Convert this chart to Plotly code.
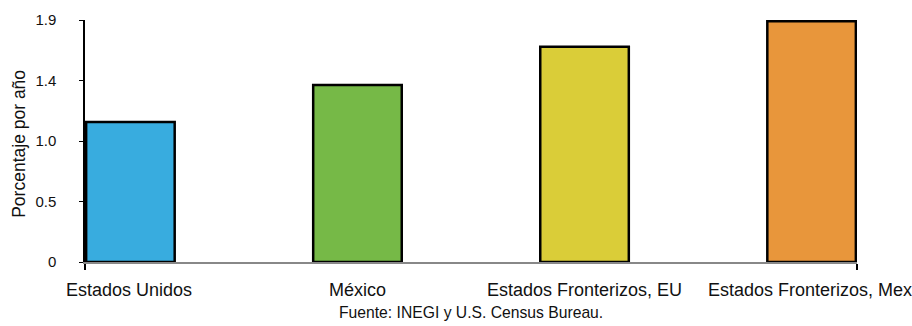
import plotly.graph_objects as go

categories = ["Estados Unidos", "México", "Estados Fronterizos, EU", "Estados Fronterizos, Mex"]
values = [1.10, 1.39, 1.69, 1.89]
colors = ["#38ACDF", "#76B947", "#DACD38", "#E8963B"]
y_tickvals = [0, 0.475, 0.95, 1.425, 1.9]
y_ticktext = ["0", "0.5", "1.0", "1.4", "1.9"]
label_shifts = [-1, 0, 0, -2]

FONT = "Liberation Sans, Arial, sans-serif"
positions = list(range(len(categories)))

fig = go.Figure()
fig.add_trace(go.Bar(
    x=positions, y=values, width=0.39,
    marker=dict(color=colors, line=dict(color="#000000", width=2.5)),
    hoverinfo="skip",
))

annotations = []
for p, c, s in zip(positions, categories, label_shifts):
    annotations.append(dict(
        x=p, y=0, xref="x", yref="y", text=c, showarrow=False,
        xanchor="center", yanchor="middle", yshift=-28, xshift=s,
        font=dict(family=FONT, size=18, color="#111111"),
    ))
annotations.append(dict(
    x=-0.085, y=0.49, xref="paper", yref="paper", text="Porcentaje por año",
    textangle=-90, showarrow=False, xanchor="center", yanchor="middle",
    font=dict(family=FONT, size=17.5, color="#111111"),
))
annotations.append(dict(
    x=0.5, y=0, xref="paper", yref="paper", text="Fuente: INEGI y U.S. Census Bureau.",
    showarrow=False, xanchor="center", yanchor="middle", yshift=-50,
    font=dict(family=FONT, size=15.7, color="#111111"),
))

fig.update_layout(
    width=912, height=326,
    margin=dict(l=85, r=55, t=20, b=64),
    paper_bgcolor="white", plot_bgcolor="white",
    showlegend=False,
    annotations=annotations,
    xaxis=dict(
        range=[-0.2, 3.2], tickvals=[-0.2, 3.2], ticktext=["", ""],
        ticks="outside", ticklen=6, tickcolor="#000000", tickwidth=1.5,
        showline=True, linecolor="#888888", linewidth=2,
        showgrid=False, zeroline=False, fixedrange=True,
    ),
    yaxis=dict(
        range=[0, 1.9], tickvals=y_tickvals, ticktext=y_ticktext,
        ticks="outside", ticklen=4, tickcolor="#000000", tickwidth=1,
        ticklabelstandoff=20,
        showline=True, linecolor="#000000", linewidth=1.5,
        showgrid=False, zeroline=False,
        tickfont=dict(family=FONT, size=15, color="#111111"),
    ),
)

fig.write_html("out.html")
